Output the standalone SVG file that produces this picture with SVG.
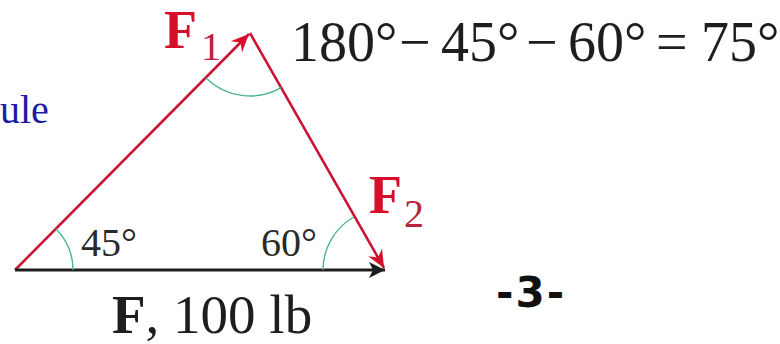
<svg xmlns="http://www.w3.org/2000/svg" width="780" height="344" viewBox="0 0 780 344">
<defs>
<style>
.serif{font-family:"Liberation Serif","Times New Roman",serif;}
.red{stroke:#cc1436;stroke-width:2.6;fill:none;}
.blk{stroke:#1e1e1e;stroke-width:3;fill:none;}
.arc{stroke:#4bb394;stroke-width:1.4;fill:none;}
</style>
<marker id="ahRed" viewBox="-19 -9 21 18" refX="0" refY="0" markerWidth="21" markerHeight="18" markerUnits="userSpaceOnUse" orient="auto">
<path d="M0,0 L-18,-8 L-12,0 L-18,8 Z" fill="#d80f2a"/>
</marker>
<marker id="ahBlk" viewBox="-18 -9 20 18" refX="0" refY="0" markerWidth="20" markerHeight="18" markerUnits="userSpaceOnUse" orient="auto">
<path d="M0,0 L-16,-8 L-12,0 L-16,8 Z" fill="#1e1e1e"/>
</marker>
</defs>
<rect width="780" height="344" fill="#ffffff"/>
<g id="connectors">
<line class="red" x1="15" y1="270" x2="249" y2="34" marker-end="url(#ahRed)"/>
<line class="red" x1="250" y1="33" x2="384" y2="268" marker-end="url(#ahRed)"/>
<line class="blk" x1="15" y1="270" x2="385" y2="270" marker-end="url(#ahBlk)"/>
</g>
<g id="angles">
<path class="arc" d="M73,270 A58,58 0 0 0 56,229"/>
<path class="arc" d="M205.7,77.7 A63,63 0 0 0 281.2,87.7"/>
<path class="arc" d="M323,270 A61,61 0 0 1 353.8,217"/>
</g>
<g id="label-F1">
<text class="serif" x="164" y="48" font-size="54" font-weight="bold" fill="#d80f2a">F</text>
<text class="serif" x="201" y="60" font-size="40" fill="#b8243e">1</text>
</g>
<g id="label-F2">
<text class="serif" x="369" y="213" font-size="54" font-weight="bold" fill="#d80f2a">F</text>
<text class="serif" x="404" y="227" font-size="40" fill="#b8243e">2</text>
</g>
<g id="label-F">
<text class="serif" x="112" y="333" font-size="55" fill="#1e1e1e"><tspan font-weight="bold">F</tspan>, 100 lb</text>
</g>
<g id="label-45">
<text class="serif" x="81" y="256" font-size="40" fill="#2a2a2a">45°</text>
</g>
<g id="label-60">
<text class="serif" x="261" y="256" font-size="40" fill="#2a2a2a">60°</text>
</g>
<g id="equation">
<text class="serif" y="61" font-size="56" fill="#1e1e1e"><tspan x="291">180°</tspan><tspan x="399">−</tspan><tspan x="441">45°</tspan><tspan x="526">−</tspan><tspan x="568">60°</tspan><tspan x="656">=</tspan><tspan x="701">75°</tspan></text>
</g>
<g id="rule">
<text class="serif" x="0" y="123" font-size="40" fill="#1c1ca8">ule</text>
</g>
<g id="page">
<text x="496" y="307" font-family="'DejaVu Sans',Verdana,sans-serif" font-weight="bold" font-size="42" letter-spacing="2" fill="#111">-3-</text>
</g>
</svg>
